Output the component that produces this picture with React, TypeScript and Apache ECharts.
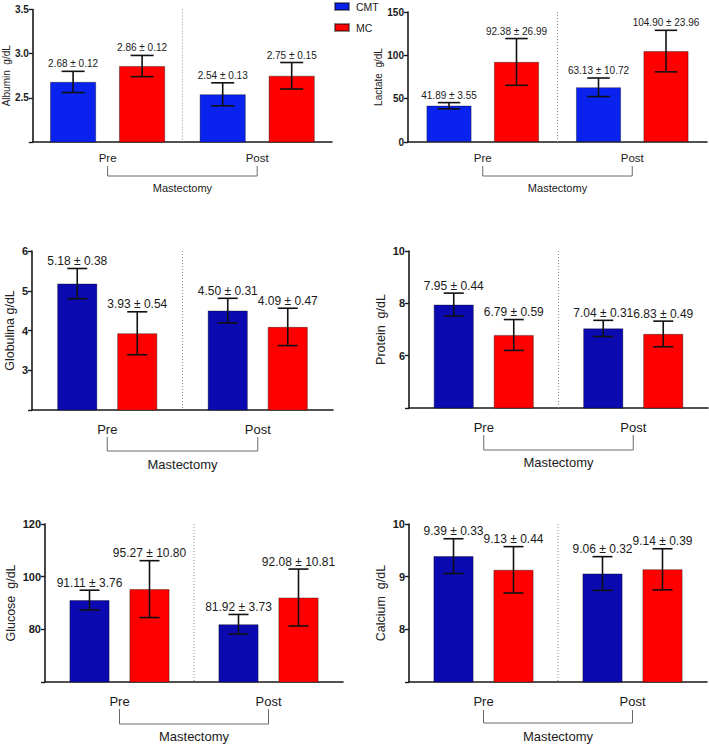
import React, { useEffect, useRef } from "react";
import * as echarts from "echarts";

// ---------- data ----------
const categories = ["Pre", "Post"];
const groupNames = ["CMT", "MC"];

const albuminCMT = [2.68, 2.54];
const albuminCMTsd = [0.12, 0.13];
const albuminMC = [2.86, 2.75];
const albuminMCsd = [0.12, 0.15];

const lactateCMT = [41.89, 63.13];
const lactateCMTsd = [3.55, 10.72];
const lactateMC = [92.38, 104.9];
const lactateMCsd = [26.99, 23.96];

const globulinaCMT = [5.18, 4.5];
const globulinaCMTsd = [0.38, 0.31];
const globulinaMC = [3.93, 4.09];
const globulinaMCsd = [0.54, 0.47];

const proteinCMT = [7.95, 7.04];
const proteinCMTsd = [0.44, 0.31];
const proteinMC = [6.79, 6.83];
const proteinMCsd = [0.59, 0.49];

const glucoseCMT = [91.11, 81.92];
const glucoseCMTsd = [3.76, 3.73];
const glucoseMC = [95.27, 92.08];
const glucoseMCsd = [10.8, 10.81];

const calciumCMT = [9.39, 9.06];
const calciumCMTsd = [0.33, 0.32];
const calciumMC = [9.13, 9.14];
const calciumMCsd = [0.44, 0.39];

const yTitles = ["Albumin  g/dL", "Lactate  g/dL", "Globulina g/dL", "Protein  g/dL", "Glucose  g/dL", "Calcium  g/dL"];
const yMins = [2, 0, 2, 4, 60, 7];
const yMaxs = [3.5, 150, 6, 10, 120, 10];
const yIntervals = [0.5, 50, 1, 2, 20, 1];
const yDecimals = [1, 0, 0, 0, 0, 0];
const xTitle = "Mastectomy";

// ---------- layout ----------
const panels = [
  { cmt: albuminCMT, cmtSd: albuminCMTsd, mc: albuminMC, mcSd: albuminMCsd,
    grid: { left: 31, top: 9.5, width: 301, height: 132.5 }, nameGap: 20, titleSize: 10,
    barWidth: 46, labelSize: 10, tickSize: 10, catSize: 11.5, catMargin: 10, mastSize: 11, mastGap: 40,
    bracket: [24, 34], blue: "#0a22ee", showMin: false },
  { cmt: lactateCMT, cmtSd: lactateCMTsd, mc: lactateMC, mcSd: lactateMCsd,
    grid: { left: 408, top: 12, width: 299, height: 130 }, nameGap: 20, titleSize: 10,
    barWidth: 45, labelSize: 10, tickSize: 10, catSize: 11.5, catMargin: 10, mastSize: 11, mastGap: 40,
    bracket: [24, 34], blue: "#0a22ee", showMin: true },
  { cmt: globulinaCMT, cmtSd: globulinaCMTsd, mc: globulinaMC, mcSd: globulinaMCsd,
    grid: { left: 32, top: 251, width: 301, height: 159 }, nameGap: 16, titleSize: 12.5,
    barWidth: 40, labelSize: 12, tickSize: 11, catSize: 13, catMargin: 13, mastSize: 13, mastGap: 48,
    bracket: [27, 41], blue: "#0a0ab0", showMin: false },
  { cmt: proteinCMT, cmtSd: proteinCMTsd, mc: proteinMC, mcSd: proteinMCsd,
    grid: { left: 409, top: 251, width: 299, height: 157 }, nameGap: 22, titleSize: 12.5,
    barWidth: 40, labelSize: 12, tickSize: 11, catSize: 13, catMargin: 13, mastSize: 13, mastGap: 48,
    bracket: [27, 42], blue: "#0a0ab0", showMin: false },
  { cmt: glucoseCMT, cmtSd: glucoseCMTsd, mc: glucoseMC, mcSd: glucoseMCsd,
    grid: { left: 45, top: 524, width: 298, height: 158 }, nameGap: 28, titleSize: 12.5,
    barWidth: 40, labelSize: 12, tickSize: 11, catSize: 13, catMargin: 13, mastSize: 13, mastGap: 48,
    bracket: [27, 42], blue: "#0a0ab0", showMin: false },
  { cmt: calciumCMT, cmtSd: calciumCMTsd, mc: calciumMC, mcSd: calciumMCsd,
    grid: { left: 409, top: 524, width: 298, height: 158 }, nameGap: 22, titleSize: 12.5,
    barWidth: 40, labelSize: 12, tickSize: 11, catSize: 13, catMargin: 13, mastSize: 13, mastGap: 48,
    bracket: [28, 41], blue: "#0a0ab0", showMin: false },
];

const RED = "#ff0000";
const INK = "#1a1a1a";
const FONT = "'Liberation Sans', Arial, Helvetica, sans-serif";

function buildOption() {
  const grids: any[] = [];
  const xAxes: any[] = [];
  const yAxes: any[] = [];
  const series: any[] = [];

  panels.forEach((p, i) => {
    grids.push({ ...p.grid, containLabel: false });
    const yMin = yMins[i];
    const yMax = yMaxs[i];
    const dec = yDecimals[i];
    xAxes.push({
      type: "category",
      gridIndex: i,
      data: categories,
      axisLine: { show: true, lineStyle: { color: INK, width: 1.6 } },
      axisTick: { show: false },
      axisLabel: { fontSize: p.catSize, color: INK, margin: p.catMargin, fontFamily: FONT },
      splitLine: { show: false },
      name: xTitle,
      nameLocation: "middle",
      nameGap: p.mastGap,
      nameTextStyle: { fontSize: p.mastSize, color: INK, fontFamily: FONT },
    });
    yAxes.push({
      type: "value",
      gridIndex: i,
      min: yMin,
      max: yMax,
      interval: yIntervals[i],
      axisLine: { show: true, lineStyle: { color: INK, width: 1.6 } },
      axisTick: { show: true, length: 4, lineStyle: { color: INK, width: 1.4 } },
      axisLabel: {
        fontSize: p.tickSize,
        fontWeight: "bold",
        color: INK,
        margin: 4,
        fontFamily: FONT,
        formatter: (v: number) => (!p.showMin && Math.abs(v - yMin) < 1e-9 ? "" : v.toFixed(dec)),
      },
      splitLine: { show: false },
      name: yTitles[i],
      nameLocation: "middle",
      nameRotate: 90,
      nameGap: p.nameGap,
      nameTextStyle: { fontSize: p.titleSize, color: "#222", fontFamily: FONT },
    });

    const bw = p.barWidth;
    series.push({
      type: "bar",
      name: groupNames[0],
      xAxisIndex: i,
      yAxisIndex: i,
      data: p.cmt,
      barWidth: bw,
      barGap: "50%",
      itemStyle: { color: p.blue, borderColor: "rgba(0,0,0,0.45)", borderWidth: 0.8 },
      silent: true,
    });
    series.push({
      type: "bar",
      name: groupNames[1],
      xAxisIndex: i,
      yAxisIndex: i,
      data: p.mc,
      barWidth: bw,
      barGap: "50%",
      itemStyle: { color: RED, borderColor: "rgba(0,0,0,0.45)", borderWidth: 0.8 },
      silent: true,
    });

    // error bars + value labels
    const errData: number[][] = [];
    categories.forEach((_, c) => {
      errData.push([c, p.cmt[c], p.cmtSd[c], -1]);
      errData.push([c, p.mc[c], p.mcSd[c], 1]);
    });
    series.push({
      type: "custom",
      name: "err" + i,
      xAxisIndex: i,
      yAxisIndex: i,
      data: errData,
      clip: false,
      silent: true,
      z: 5,
      encode: { x: 0, y: 1 },
      renderItem: (params: any, api: any) => {
        const cat = api.value(0);
        const mean = api.value(1);
        const sd = api.value(2);
        const side = api.value(3);
        const top = api.coord([cat, mean + sd]);
        const bot = api.coord([cat, mean - sd]);
        const x = top[0] + side * bw * 0.75;
        const cap = bw / 4;
        const ls = { stroke: "#111", lineWidth: 1.6 };
        return {
          type: "group",
          children: [
            { type: "line", shape: { x1: x, y1: top[1], x2: x, y2: bot[1] }, style: ls },
            { type: "line", shape: { x1: x - cap, y1: top[1], x2: x + cap, y2: top[1] }, style: ls },
            { type: "line", shape: { x1: x - cap, y1: bot[1], x2: x + cap, y2: bot[1] }, style: ls },
            {
              type: "text",
              x: x,
              y: top[1] - 7.5,
              style: {
                text: mean.toFixed(2) + " \u00b1 " + sd.toFixed(2),
                align: "center",
                verticalAlign: "middle",
                fontSize: p.labelSize,
                fontFamily: FONT,
                fill: INK,
              },
            },
          ],
        };
      },
    });

    // divider + bracket
    series.push({
      type: "custom",
      name: "decor" + i,
      xAxisIndex: i,
      yAxisIndex: i,
      data: [[0, yMin]],
      clip: false,
      silent: true,
      z: 1,
      encode: { x: 0, y: 1 },
      renderItem: (params: any, api: any) => {
        const a = api.coord([0, yMin]);
        const b = api.coord([1, yMin]);
        const t = api.coord([0, yMax]);
        const midX = (a[0] + b[0]) / 2;
        const base = a[1];
        const [d1, d2] = p.bracket;
        return {
          type: "group",
          children: [
            {
              type: "line",
              shape: { x1: midX, y1: t[1], x2: midX, y2: base },
              style: { stroke: "#8a8a8a", lineWidth: 1, lineDash: [1, 2] },
            },
            {
              type: "polyline",
              shape: { points: [[a[0], base + d1], [a[0], base + d2], [b[0], base + d2], [b[0], base + d1]] },
              style: { stroke: "#6a6a6a", lineWidth: 1, fill: "none" },
            },
          ],
        };
      },
    });
  });

  return {
    animation: false,
    backgroundColor: "#ffffff",
    textStyle: { fontFamily: FONT },
    legend: {
      data: groupNames,
      orient: "vertical",
      left: 334,
      top: 1,
      itemWidth: 14,
      itemHeight: 7,
      itemGap: 10,
      icon: "rect",
      selectedMode: false,
      padding: 0,
      textStyle: { fontSize: 10.5, color: INK, fontFamily: FONT, padding: [0, 0, 0, 2] },
    },
    grid: grids,
    xAxis: xAxes,
    yAxis: yAxes,
    series,
  };
}

export default function App() {
  const ref = useRef<HTMLDivElement>(null);
  useEffect(() => {
    if (!ref.current) return;
    const chart = echarts.init(ref.current, undefined, { renderer: "svg" });
    chart.setOption(buildOption() as any);
    return () => chart.dispose();
  }, []);
  return (
    <div
      ref={ref}
      style={{ position: "absolute", left: 0, top: 0, width: 709, height: 746, background: "#fff" }}
    />
  );
}
